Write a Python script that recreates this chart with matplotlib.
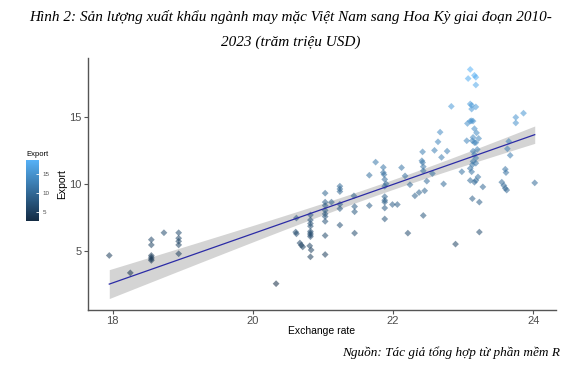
import numpy as np
import matplotlib
matplotlib.use("Agg")
import matplotlib.pyplot as plt
from matplotlib.colors import LinearSegmentedColormap, Normalize
from matplotlib.cm import ScalarMappable

# values
exchange_rate = [
    17.95, 18.25, 18.55, 18.55, 18.55, 18.55, 18.55, 18.55, 18.73, 18.94,
    18.94, 18.94, 18.94, 18.94, 20.33,
    20.62, 20.61, 20.62, 20.67, 20.69, 20.71,
    20.82, 20.82, 20.82, 20.82, 20.82, 20.82, 20.82, 20.82, 20.81, 20.83, 20.82,
    21.03, 21.03, 21.03, 21.03, 21.03, 21.03, 21.03, 21.03, 21.03, 21.12,
    21.24, 21.24, 21.24, 21.24, 21.24, 21.24,
    21.44, 21.45, 21.45, 21.45, 21.66, 21.66, 21.75,
    21.86, 21.86, 21.87, 21.88, 21.90, 21.88, 21.88, 21.88, 21.88, 21.88, 21.88,
    21.99, 22.06, 22.12, 22.17, 22.21, 22.24, 22.31, 22.37,
    22.42, 22.41, 22.42, 22.43, 22.43, 22.45, 22.43, 22.48,
    22.56, 22.59, 22.64, 22.67, 22.69, 22.72, 22.77, 22.83, 22.89, 22.98,
    23.05, 23.06, 23.10, 23.12, 23.14, 23.07, 23.10, 23.16, 23.18, 23.18,
    23.10, 23.12, 23.18, 23.12, 23.16, 23.19, 23.14, 23.13, 23.16, 23.18, 23.22,
    23.14, 23.16, 23.18, 23.20, 23.14, 23.13, 23.10, 23.12, 23.18,
    23.10, 23.16, 23.18, 23.21, 23.28, 23.13, 23.23, 23.23,
    23.55, 23.58, 23.60, 23.62, 23.60, 23.61, 23.65, 23.63, 23.67,
    23.75, 23.75, 23.86, 24.02,
]
export = [
    4.67, 3.37, 5.85, 5.46, 4.67, 4.54, 4.41, 4.30, 6.37, 6.37,
    5.96, 5.73, 5.46, 4.80, 2.56,
    7.47, 6.42, 6.29, 5.60, 5.44, 5.31,
    7.70, 7.32, 7.06, 6.86, 6.47, 6.34, 6.21, 6.08, 5.39, 5.08, 4.57,
    9.33, 8.66, 8.40, 8.04, 7.78, 7.58, 7.22, 6.16, 4.74, 8.66,
    9.85, 9.64, 9.45, 8.50, 8.17, 6.94,
    9.13, 8.33, 7.94, 6.34, 10.67, 8.40, 11.65,
    11.26, 10.87, 10.72, 10.36, 10.03, 9.85, 9.07, 8.80, 8.66, 8.22, 7.40,
    8.48, 8.48, 11.24, 10.62, 6.34, 9.96, 9.13, 9.38,
    12.42, 11.75, 11.62, 11.31, 11.00, 9.51, 7.66, 10.23,
    10.80, 12.53, 13.17, 13.89, 12.01, 10.02, 12.47, 15.82, 5.52, 10.93,
    13.25, 14.54, 14.72, 14.74, 14.72, 17.90, 18.58, 18.14, 18.00, 17.42,
    16.00, 15.90, 15.78, 15.62, 14.15, 13.84, 13.50, 13.25, 13.11, 13.11, 13.42,
    12.47, 12.22, 11.96, 12.60, 11.70, 11.45, 11.18, 10.93, 11.57,
    10.28, 10.15, 10.28, 10.54, 9.80, 8.92, 8.66, 6.42,
    10.15, 9.90, 9.69, 9.56, 11.12, 10.87, 13.20, 12.65, 12.16,
    15.00, 14.58, 15.31, 10.10,
]
colorbar_ticks = [5, 10, 15]
title_line1 = "Hình 2: Sản lượng xuất khẩu ngành may mặc Việt Nam sang Hoa Kỳ giai đoạn 2010-"
title_line2 = "2023 (trăm triệu USD)"
source_text = "Nguồn: Tác giả tổng hợp từ phần mềm R"

x = np.array(exchange_rate)
y = np.array(export)

# linear fit + 95% confidence band, like geom_smooth(method = "lm")
n = len(x)
slope, intercept = np.polyfit(x, y, 1)
xs = np.linspace(x.min(), x.max(), 100)
fit = intercept + slope * xs
resid = y - (intercept + slope * x)
s = np.sqrt(np.sum(resid ** 2) / (n - 2))
se = s * np.sqrt(1 / n + (xs - x.mean()) ** 2 / np.sum((x - x.mean()) ** 2))
t = 1.976
lo, hi = fit - t * se, fit + t * se

cmap = LinearSegmentedColormap.from_list("gg", ["#132B43", "#56B1F7"])
norm = Normalize(y.min(), y.max())

plt.rcParams['font.family'] = ['Liberation Sans', 'DejaVu Sans']

fig = plt.figure(figsize=(5.82, 3.74), dpi=100)
ax = fig.add_axes([88 / 582, 1 - 310 / 374, 468 / 582, 252 / 374])

ax.fill_between(xs, lo, hi, color="#d4d4d4", lw=0, zorder=1)
ax.scatter(x, y, c=y, cmap=cmap, norm=norm, marker="D", s=12, alpha=0.55,
           linewidths=0, zorder=2)
ax.plot(xs, fit, color="#2b2ba6", lw=0.9, zorder=3)

xr = x.max() - x.min()
ax.set_xlim(x.min() - 0.05 * xr, x.max() + 0.05 * xr)
ylow, yhigh = min(lo.min(), y.min()), max(hi.max(), y.max())
yr = yhigh - ylow
ax.set_ylim(ylow - 0.05 * yr, yhigh + 0.05 * yr)

ax.set_xticks([18, 20, 22, 24])
ax.set_yticks([5, 10, 15])
for side in ["top", "right"]:
    ax.spines[side].set_visible(False)
for side in ["left", "bottom"]:
    ax.spines[side].set_color("#555555")
    ax.spines[side].set_linewidth(1.0)
ax.tick_params(colors="#555555", labelcolor="#4d4d4d", labelsize=8, length=3,
               width=0.8, pad=1.5)
ax.set_xlabel("Exchange rate", fontsize=7.5)
ax.set_ylabel("Export", fontsize=7.5)
ax.xaxis.set_label_coords(0.5, -0.065)
ax.yaxis.set_label_coords(-0.045, 0.5)

# colour bar legend
cax = fig.add_axes([26 / 582, 1 - 221 / 374, 13 / 582, 61 / 374])
cb = fig.colorbar(ScalarMappable(norm=norm, cmap=cmap), cax=cax, ticks=colorbar_ticks)
cb.outline.set_visible(False)
cax.tick_params(labelsize=4.5, labelcolor="#4d4d4d", color="white", length=2, width=0.6,
                direction="in", pad=2.5)
cax.set_title("Export", fontsize=5.5, loc="left", pad=3)

fig.text(0.5, 1 - 17 / 374, title_line1, ha="center", va="center", fontsize=11,
         family="Liberation Serif", style="italic")
fig.text(0.5, 1 - 42 / 374, title_line2, ha="center", va="center", fontsize=11,
         family="Liberation Serif", style="italic")
fig.text(560 / 582, 1 - 353 / 374, source_text, ha="right", va="center", fontsize=9.5,
         family="Liberation Serif", style="italic")

fig.savefig("out.png", dpi=100)
